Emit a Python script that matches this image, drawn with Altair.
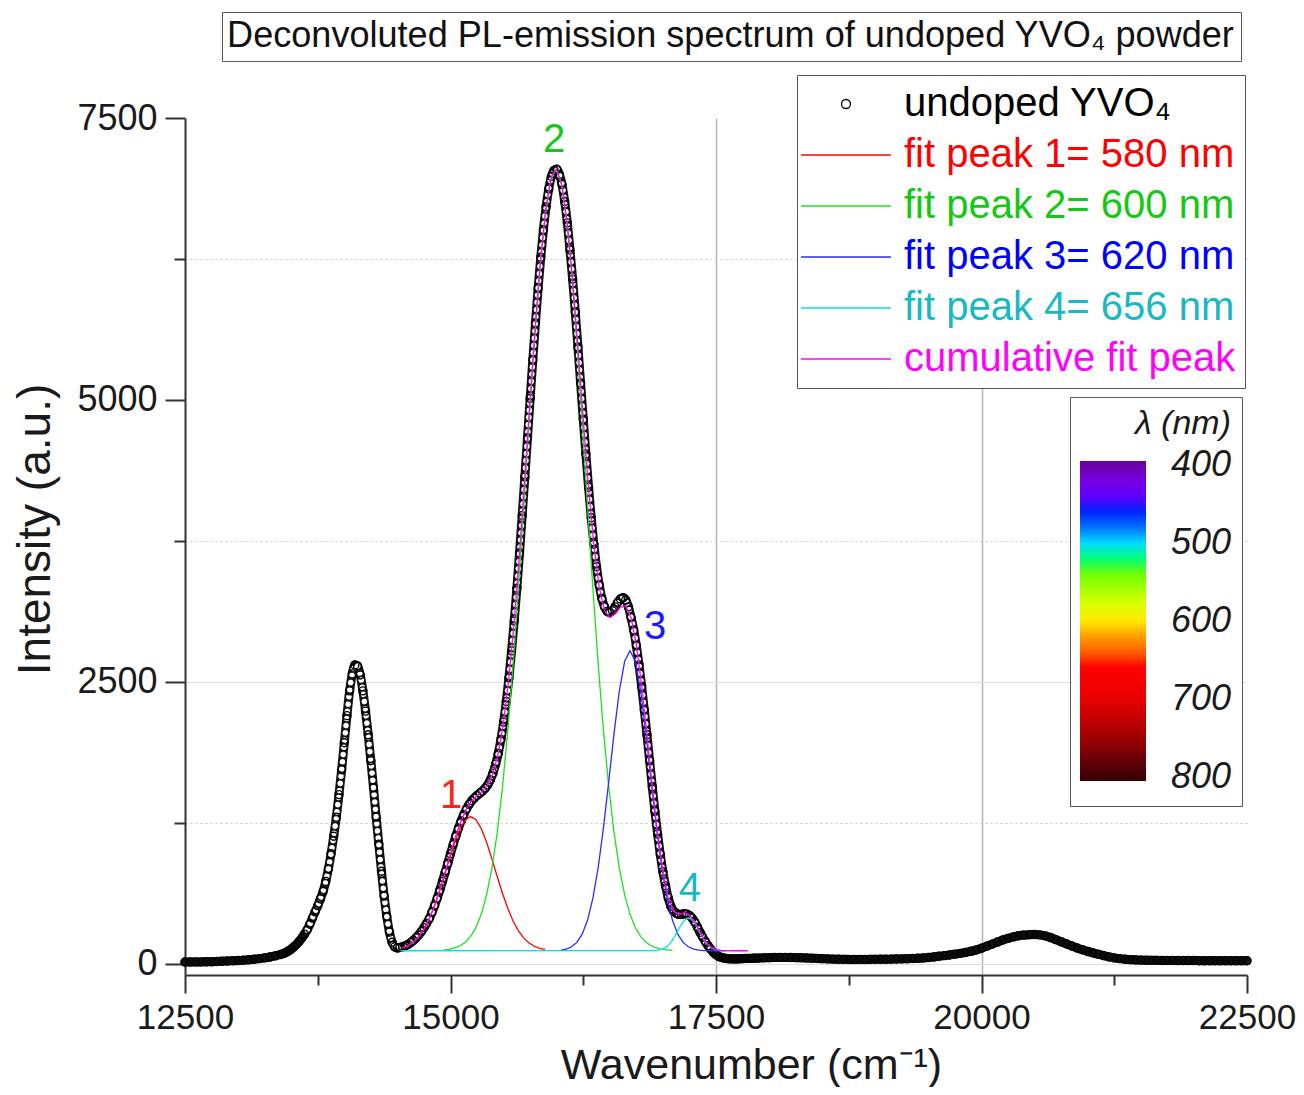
import json
import altair as alt
import pandas as pd

FONT = "Liberation Sans, Arial, Helvetica, sans-serif"

title_text = "Deconvoluted PL-emission spectrum of undoped YVO\u2084 powder"
series_names = [
    "undoped YVO\u2084",
    "fit peak 1= 580 nm",
    "fit peak 2= 600 nm",
    "fit peak 3= 620 nm",
    "fit peak 4= 656 nm",
    "cumulative fit peak",
]
line_colors = ["#000000", "#ff0000", "#1ee01e", "#2b2bff", "#00e5e5", "#ff00ff"]
label_colors = ["#000000", "#ff0000", "#14c814", "#0000ff", "#18b8c4", "#ff00ff"]

meas_a_x = list(range(12500, 13351, 50))
meas_a_y = [15, 15, 16, 16, 17, 18, 20, 22, 24, 26, 28, 31, 35, 40, 45, 52, 60, 70]

meas_b_x = list(range(13400, 17876, 25))
meas_b_y = [
    82, 90, 100, 114,
    130, 150, 172, 198,
    228, 262, 300, 350,
    405, 460, 515, 575,
    640, 730, 840, 975,
    1130, 1300, 1500, 1720,
    1960, 2200, 2420, 2570,
    2650, 2640, 2560, 2420,
    2240, 2030, 1800, 1560,
    1300, 1060, 820, 600,
    420, 280, 190, 150,
    140, 145, 150, 160,
    172, 188, 207, 230,
    255, 285, 320, 358,
    400, 455, 515, 582,
    655, 732, 812, 893,
    975, 1055, 1132, 1202,
    1266, 1322, 1372, 1412,
    1445, 1470, 1492, 1512,
    1531, 1555, 1586, 1630,
    1690, 1770, 1866, 1990,
    2143, 2325, 2534, 2775,
    3039, 3330, 3643, 3975,
    4317, 4665, 5013, 5355,
    5682, 5990, 6266, 6510,
    6713, 6870, 6981, 7035,
    7045, 7000, 6910, 6760,
    6570, 6330, 6070, 5780,
    5470, 5150, 4830, 4520,
    4225, 3955, 3720, 3520,
    3360, 3240, 3165, 3125,
    3115, 3130, 3165, 3205,
    3235, 3245, 3225, 3165,
    3070, 2960, 2820, 2650,
    2460, 2250, 2030, 1800,
    1570, 1350, 1150, 970,
    815, 690, 585, 510,
    467, 448, 438, 438,
    443, 440, 428, 405,
    370, 325, 278, 235,
    196, 160, 128, 100,
    80, 65, 56, 50,
    46, 44, 43, 43,
    43, 44, 45, 46,
    47, 47, 48, 49,
]

meas_c_x = list(range(17900, 22501, 50))
meas_c_y = [
    50, 52, 54, 55, 56, 56, 55, 54, 53, 51,
    49, 47, 45, 43, 41, 40, 39, 38, 38, 38,
    38, 39, 39, 40, 40, 41, 42, 43, 44, 46,
    48, 51, 55, 60, 66, 72, 78, 85, 92, 100,
    110, 122, 138, 156, 174, 192, 210, 225, 238, 248,
    254, 258, 259, 256, 247, 232, 214, 195, 176, 157,
    140, 124, 109, 96, 84, 72, 61, 52, 45, 40,
    36, 34, 32, 31, 30, 30, 29, 29, 29, 28,
    28, 28, 28, 27, 27, 27, 27, 27, 26, 26,
    26, 26, 26,
]

# ---------------- fitted peaks ----------------
red_x = list(range(14540, 15891, 50))
red_y = [137, 155, 183, 227, 291, 377, 489, 623, 774, 930, 1077, 1198, 1277, 1305,
         1277, 1198, 1077, 930, 774, 623, 489, 377, 291, 227, 183, 155, 137, 127]

green_x = list(range(14940, 17091, 50))
green_y = [122, 128, 140, 159, 191, 242, 322, 440, 611, 847, 1163, 1570, 2073, 2667,
           3340, 4066, 4806, 5514, 6137, 6626, 6938, 7045, 6938, 6626, 6137, 5514,
           4806, 4066, 3340, 2667, 2073, 1570, 1163, 847, 611, 440, 322, 242, 191,
           159, 140, 128, 122, 118]

blue_x = list(range(16040, 17591, 50))
blue_y = [121, 130, 150, 189, 262, 385, 577, 849, 1203, 1616, 2043, 2421, 2682, 2775,
          2682, 2421, 2043, 1616, 1203, 849, 577, 385, 262, 189, 150, 130, 121, 117,
          116, 115, 115, 115]

cyan_x = [14530, 16915] + list(range(16940, 17541, 25)) + [17565, 17600]
cyan_y = [115, 116,
          118, 122, 128, 138, 154, 178, 209, 248, 291, 334, 371, 396, 405,
          396, 371, 334, 291, 248, 209, 178, 154, 138, 128, 122, 118,
          116, 115]

cum_x = list(range(14550, 17801, 50))
cum_y = [140, 159, 191, 238, 306, 398, 516, 656, 813, 976,
         1132, 1266, 1372, 1445, 1492, 1531, 1586, 1688, 1866, 2143,
         2534, 3039, 3643, 4317, 5013, 5682, 6266, 6713, 6981, 7044,
         6899, 6558, 6062, 5463, 4826, 4220, 3710, 3340, 3132, 3069,
         3104, 3163, 3172, 3069, 2830, 2467, 2028, 1572, 1153, 816,
         586, 467, 437, 448, 434, 370, 278, 198, 147, 125,
         118, 116, 115, 115, 115, 115]

# peak annotations
peak_labels = ["1", "2", "3", "4"]
peak_label_x = [15005, 15975, 16926, 17255]
peak_label_y = [1489, 7305, 2988, 665]
peak_label_colors = ["#ff2020", "#14c814", "#1a1aff", "#18b8c4"]

# colour bar (wavelength in nm), 400 at the top, 800 at the bottom
cb_ticks = [400, 500, 600, 700, 800]
cb_stops = [395, 400, 430, 457, 487, 504, 525, 560, 594, 619, 645, 660, 700, 750, 800, 805]
cb_colors = ["#6c00a8", "#6c00a8", "#7a00ff", "#0000ff", "#0088ff", "#00f0ff", "#00ff00",
             "#a8ff00", "#ffff00", "#ffa000", "#ff4800", "#ff0000", "#e80000", "#a00000",
             "#3c0000", "#3c0000"]

x_ticks = [12500, 13750, 15000, 16250, 17500, 18750, 20000, 21250, 22500]
y_ticks = [0, 1250, 2500, 3750, 5000, 6250, 7500]

# ---------------- data frames ----------------
meas_df = pd.DataFrame({
    "x": meas_a_x + meas_b_x + meas_c_x,
    "y": meas_a_y + meas_b_y + meas_c_y,
})
meas_df["series"] = series_names[0]

fit_frames = []
for name, xs, ys in [
    (series_names[1], red_x, red_y),
    (series_names[2], green_x, green_y),
    (series_names[3], blue_x, blue_y),
    (series_names[4], cyan_x, cyan_y),
    (series_names[5], cum_x, cum_y),
]:
    fit_frames.append(pd.DataFrame({"x": xs, "y": ys, "series": name}))
fits_df = pd.concat(fit_frames, ignore_index=True)
fits_df["order"] = range(len(fits_df))

peaks_df = pd.DataFrame({"x": peak_label_x, "y": peak_label_y,
                         "lab": peak_labels, "col": peak_label_colors})
cb_df = pd.DataFrame({"nm": cb_ticks})
title_df = pd.DataFrame({"t": [title_text]})

# ---------------- scales / axes ----------------
x_axis = alt.Axis(
    values=x_ticks, format="d",
    labelExpr="datum.value % 2500 === 0 ? datum.label : ''",
    labelFont=FONT, labelFontSize=35, labelColor="#1a1a1a", labelPadding=7,
    labelFlush=False, labelOverlap=False,
    tickSize={"expr": "datum.value % 2500 === 0 ? 18 : 10"},
    tickWidth=2, tickColor="#333333",
    domainColor="#333333", domainWidth=2,
    grid=True, gridColor="#b4b4b4", gridWidth=1.5,
    gridOpacity={"expr": "datum.value === 17500 || datum.value === 20000 ? 1 : 0"},
    title="Wavenumber (cm\u207b\u00b9)", titleFont=FONT, titleFontSize=43,
    titleFontWeight="normal", titleColor="#1a1a1a",
    titleX=566, titleY=103, titleBaseline="alphabetic", titleAlign="center",
)
y_axis = alt.Axis(
    values=y_ticks, format="d",
    labelExpr="datum.value % 2500 === 0 ? datum.label : ''",
    labelFont=FONT, labelFontSize=36, labelColor="#1a1a1a", labelPadding=8,
    labelFlush=False, labelOverlap=False,
    tickSize={"expr": "datum.value % 2500 === 0 ? 20 : 11"},
    tickWidth=2, tickColor="#333333",
    domainColor="#333333", domainWidth=2,
    grid=True, gridWidth=1.2,
    gridColor={"expr": "datum.value % 2500 === 0 ? '#dedede' : '#c8c8c8'"},
    gridDash={"expr": "datum.value % 2500 === 0 ? [] : [2, 3]"},
    gridOpacity={"expr": "datum.value === 5000 || datum.value === 7500 ? 0 : 1"},
    title="Intensity (a.u.)", titleFont=FONT, titleFontSize=46,
    titleFontWeight="normal", titleColor="#1a1a1a",
    titleX=-150, titleY=411, titleAngle=270, titleBaseline="middle", titleAlign="center",
)
x_scale = alt.Scale(domain=[12500, 22500], nice=False, zero=False)
y_scale = alt.Scale(domain=[-100, 7500], nice=False, zero=False)
X = alt.X("x:Q", scale=x_scale, axis=x_axis)
Y = alt.Y("y:Q", scale=y_scale, axis=y_axis)

circle_path = "M-0.5,0A0.5,0.5,0,1,1,0.5,0A0.5,0.5,0,1,1,-0.5,0Z"
line_path = "M-5,0L5,0"

label_color_expr = "{}[indexof({}, datum.value)]".format(
    json.dumps(label_colors), json.dumps(series_names, ensure_ascii=False))

series_legend = alt.Legend(
    title=None, orient="none", legendX=612, legendY=-43, direction="vertical",
    symbolSize=324, symbolStrokeWidth=1.3, symbolOffset=20,
    labelFont=FONT, labelFontSize=40, labelLimit=600,
    labelColor={"expr": label_color_expr},
    rowPadding=11, padding=9, fillColor="white", strokeColor="#555555",
    labelOffset=38,
)
color_scale = alt.Scale(domain=series_names, range=line_colors)
shape_scale = alt.Scale(domain=series_names, range=[circle_path] + [line_path] * 5)

cb_legend = alt.Legend(
    title="\u03bb (nm)", orient="none", legendX=885, legendY=279, direction="vertical",
    gradientLength=320, gradientThickness=66, gradientStrokeWidth=0,
    values=[-v for v in cb_ticks],
    labelExpr="format(-datum.value, 'd')",
    labelFont=FONT, labelFontSize=36, labelFontStyle="italic", labelColor="#1a1a1a",
    labelOffset=25, labelBaseline="middle",
    titleFont=FONT, titleFontSize=34, titleFontStyle="italic", titleFontWeight="normal",
    titleColor="#1a1a1a", titleAnchor="end", titlePadding=20,
    padding=10, fillColor="white", strokeColor="#555555",
)
title_legend = alt.Legend(
    title=None, orient="none", legendX=37, legendY=-106,
    symbolSize=0, symbolOpacity=0, symbolStrokeWidth=0,
    labelFont=FONT, labelFontSize=36.1, labelLimit=1200, labelColor="#111111",
    labelOffset={"expr": "-37"}, padding=6, fillColor="white", strokeColor="#555555",
)

# ---------------- layers ----------------
band = alt.Chart(meas_df).mark_line(
    color="#111111", strokeWidth=9, interpolate="monotone", strokeCap="round"
).encode(x=X, y=Y)
holes = alt.Chart(meas_df).transform_filter(
    "datum.x >= 13650 && datum.x <= 17450"
).mark_line(
    color="#ffffff", strokeWidth=5.6, interpolate="monotone", strokeCap="round",
    strokeDash=[0.01, 7.2]
).encode(x=X, y=Y)
points = alt.Chart(meas_df).mark_point(
    filled=False, size=256, strokeWidth=1.4, opacity=1
).encode(
    x=X, y=Y,
    color=alt.Color("series:N", scale=color_scale, legend=series_legend),
    shape=alt.Shape("series:N", scale=shape_scale, legend=series_legend),
)
fits = alt.Chart(fits_df).mark_line(strokeWidth=1.3).encode(
    x=X, y=Y,
    color=alt.Color("series:N", scale=color_scale, legend=series_legend),
    order="order:Q",
)
labels = alt.Chart(peaks_df).mark_text(
    font=FONT, fontSize=40, align="center", baseline="middle"
).encode(x=X, y=Y, text="lab:N", color=alt.Color("col:N", scale=None))
cb_hidden = alt.Chart(cb_df).transform_calculate(
    neg="-datum.nm"
).mark_point(size=0, filled=True, strokeWidth=0, opacity=1).encode(
    fill=alt.Fill("neg:Q",
                  scale=alt.Scale(domain=[-v for v in cb_stops][::-1], range=cb_colors[::-1]),
                  legend=cb_legend)
)
title_hidden = alt.Chart(title_df).mark_point(size=0, strokeWidth=0, opacity=0).encode(
    strokeDash=alt.StrokeDash("t:N", scale=alt.Scale(domain=[title_text], range=[[1, 0]]),
                              legend=title_legend)
)

chart = alt.layer(band, holes, points, fits, labels, cb_hidden, title_hidden).properties(
    width=1062, height=857,
    autosize=alt.AutoSizeParams(type="none"),
    padding={"left": 177, "top": 110, "right": 49, "bottom": 112},
).configure(font=FONT).configure_view(stroke="transparent")

chart.save("out.html", embed_options={"renderer": "svg", "actions": False})
